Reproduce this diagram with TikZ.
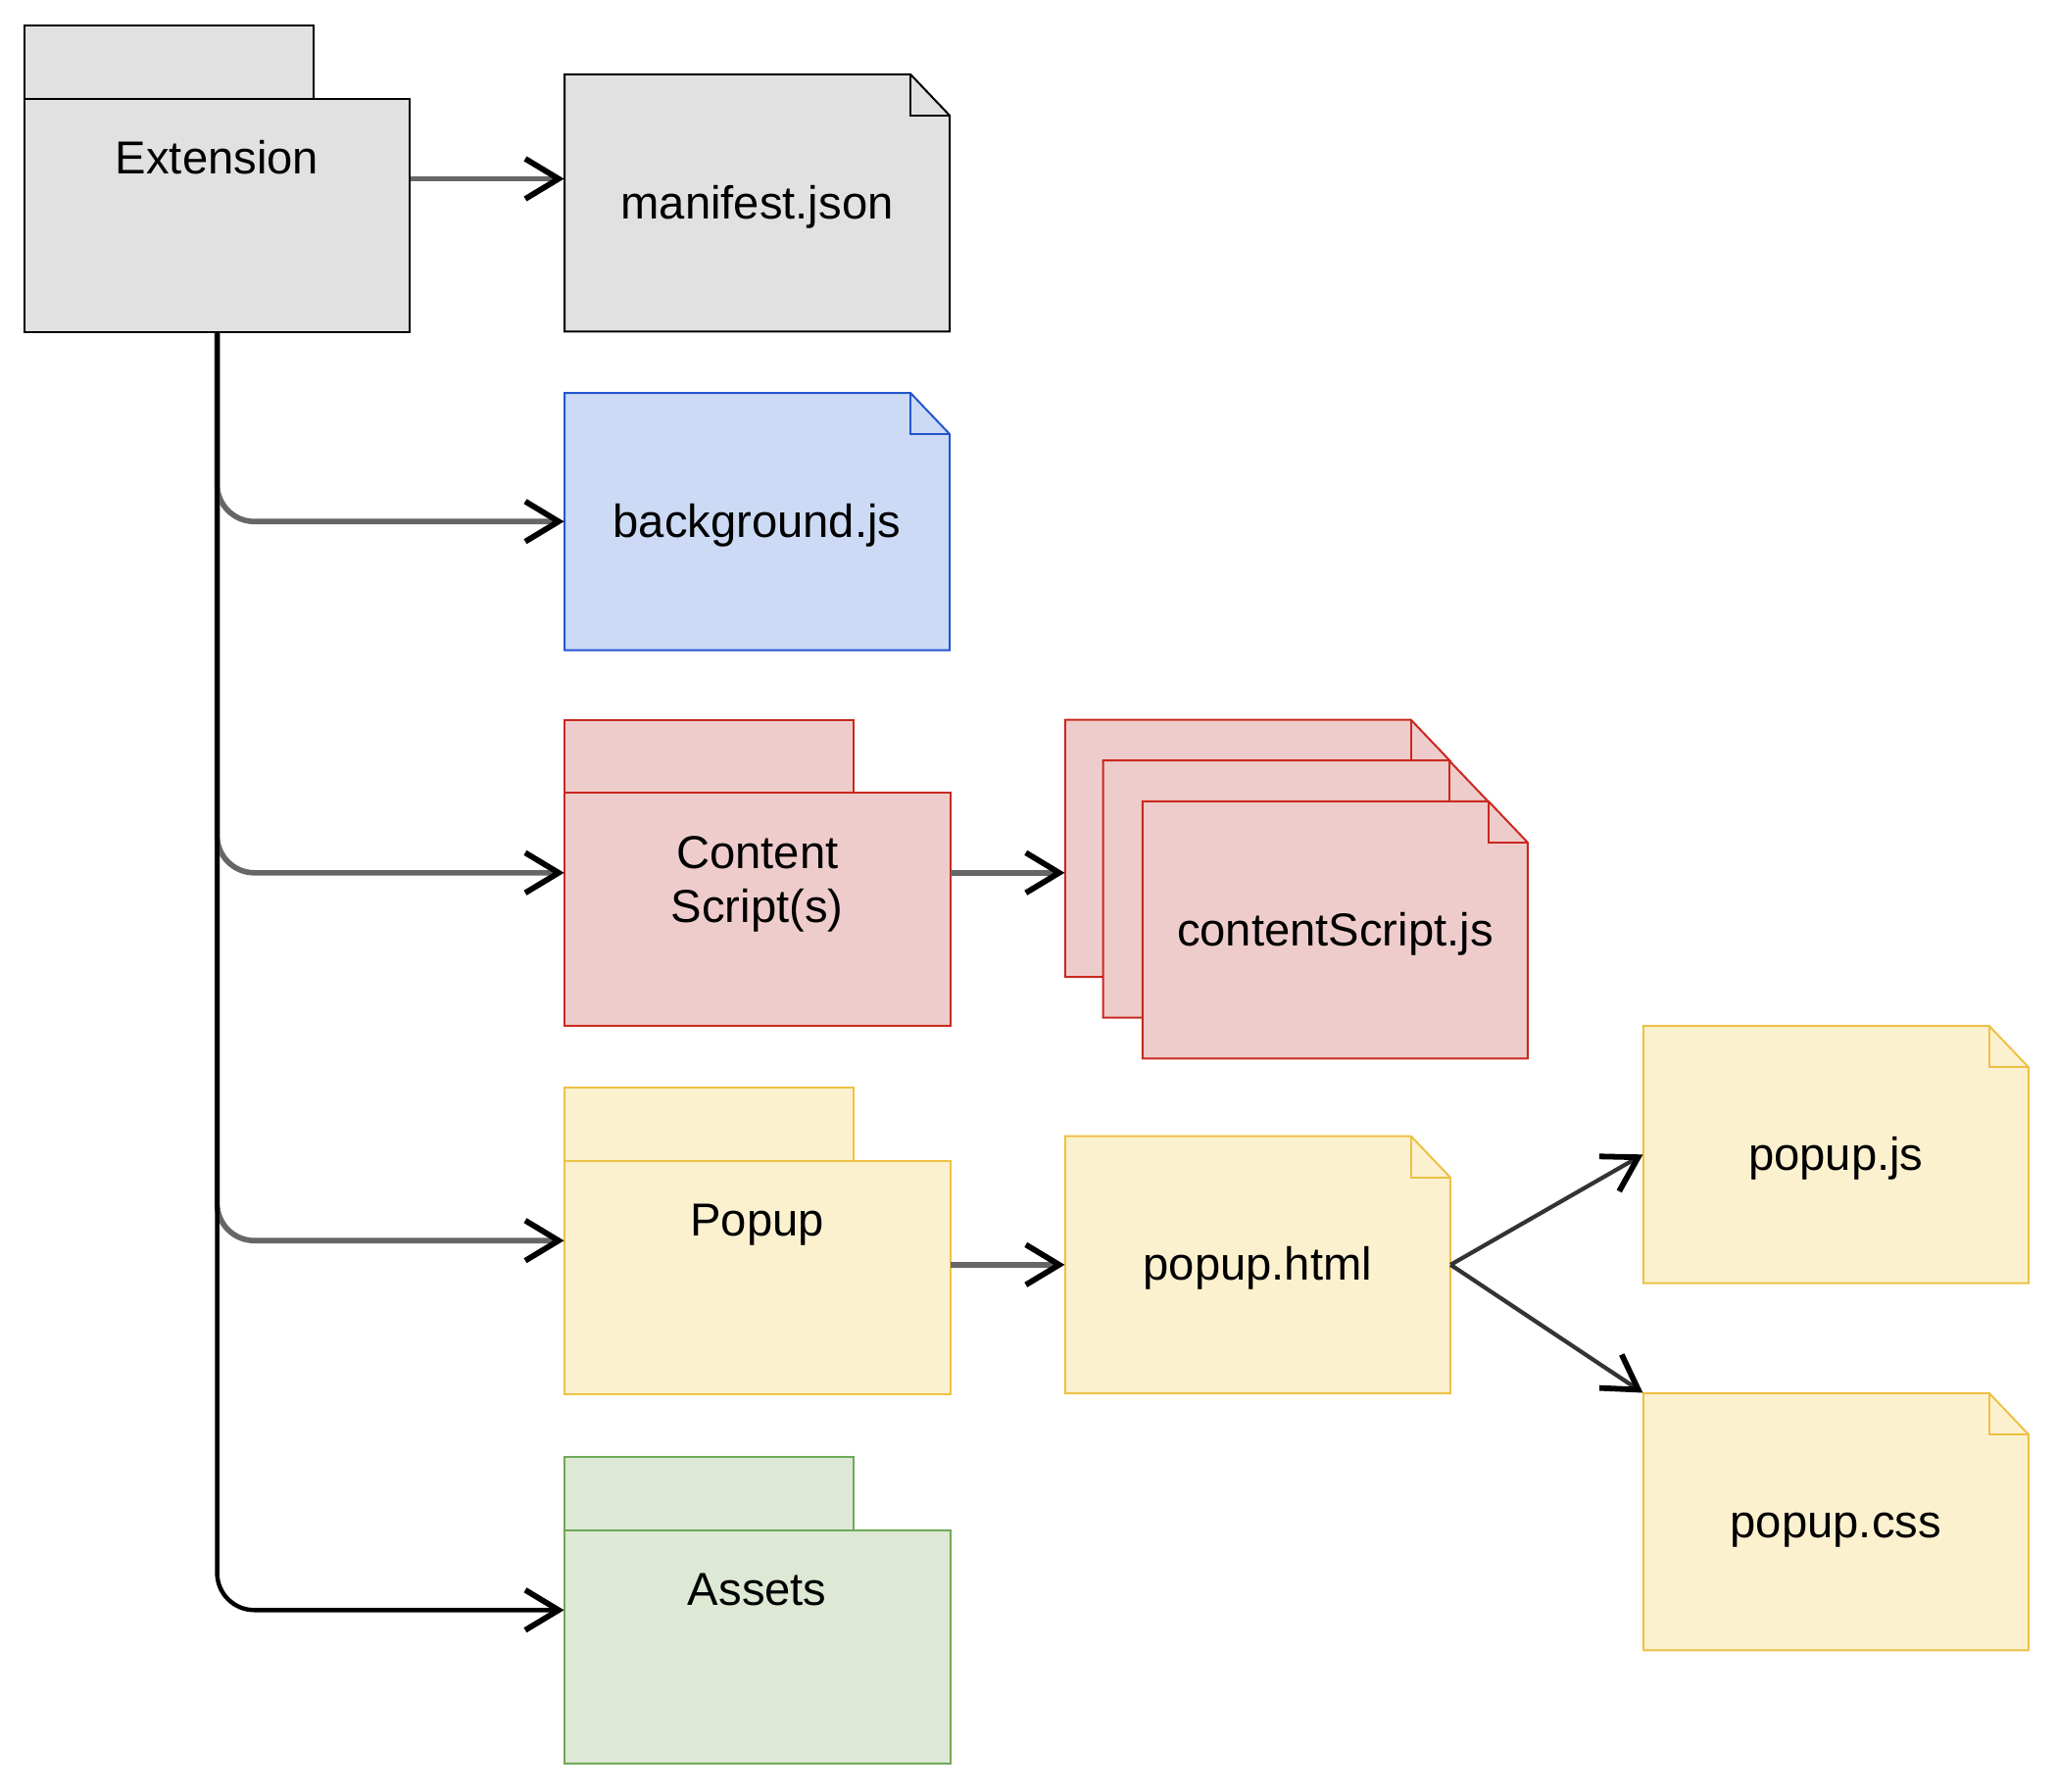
\documentclass[tikz,border=0pt]{standalone}
\usepackage{fontspec}
\setmainfont{Liberation Sans}
\usetikzlibrary{arrows.meta,calc}
\definecolor{grayfill}{HTML}{E1E1E1}
\definecolor{grayline}{HTML}{000000}
\definecolor{bluefill}{HTML}{CCDAF5}
\definecolor{blueline}{HTML}{2456CF}
\definecolor{redfill}{HTML}{EFCCCC}
\definecolor{redline}{HTML}{C9281F}
\definecolor{yelfill}{HTML}{FCF1CF}
\definecolor{yelline}{HTML}{EEC146}
\definecolor{grnfill}{HTML}{DDE8D5}
\definecolor{grnline}{HTML}{6EA957}
\tikzset{
  outl/.style={line width=1pt},
  hitbox/.style={rectangle, inner sep=0pt, draw=none, fill=none},
  lbl/.style={inner sep=0pt, font=\fontsize{23.6}{27.5}\selectfont, text=black},
  arr/.style={-{Straight Barb[length=17pt,width=20.5pt,line width=2.9pt,color=black]}},
  grayconn/.style={arr, line width=2.8pt, draw=black!60},
  blackconn/.style={arr, line width=2.2pt, draw=black},
  diagconn/.style={arr, line width=2.1pt, draw=black!80},
}
% folder: name, x0, y0 (top of tab), fill, stroke, text
\newcommand\folderbox[6]{%
  \draw[outl, fill=#4, draw=#5] (#2,#3) rectangle (#2+295,#3+74.6);
  \draw[outl, fill=#4, draw=#5] (#2,#3+74.6) rectangle (#2+393.5,#3+312.6);
  \node[hitbox, minimum width=196.75pt, minimum height=156.3pt] (#1) at (#2+196.75,#3+156.3) {};
  \node[lbl, anchor=base] (#1-t) at (#2+196.75,#3+74.6+77) {#6};
}
% note: name, x0, y0, fill, stroke, text
\newcommand\notefile[6]{%
  \draw[outl, fill=#4, draw=#5] (#2,#3) -- (#2+353,#3) -- (#2+393,#3+42) -- (#2+393,#3+262.5) -- (#2,#3+262.5) -- cycle;
  \draw[outl, draw=#5] (#2+353,#3) -- (#2+353,#3+42) -- (#2+393,#3+42);
  \node[hitbox, minimum width=196.5pt, minimum height=131.25pt] (#1) at (#2+196.5,#3+131.25) {};
  \node[lbl, anchor=base] (#1-t) at (#2+196.5,#3+131.25+16) {#6};
}
\begin{document}
\begin{tikzpicture}[x=0.5pt,y=-0.5pt]
\fill[white] (0,0) rectangle (2100,1828);
\useasboundingbox (0,0) rectangle (2100,1828);

% folders
\folderbox{ext}{24.8}{26.2}{grayfill}{grayline}{Extension}
\folderbox{cs}{576}{734.5}{redfill}{redline}{\begin{tabular}[t]{@{}c@{}}Content\\Script(s)\end{tabular}}
\folderbox{pop}{576}{1109.9}{yelfill}{yelline}{Popup}
\folderbox{as}{576}{1487}{grnfill}{grnline}{Assets}

% files
\notefile{man}{576}{75.8}{grayfill}{grayline}{manifest.json}
\notefile{bg}{576}{401}{bluefill}{blueline}{background.js}
\notefile{csjA}{1086.8}{734.7}{redfill}{redline}{}
\notefile{csjB}{1125.7}{776.2}{redfill}{redline}{}
\notefile{csjC}{1165.9}{817.9}{redfill}{redline}{contentScript.js}
\notefile{html}{1086.8}{1159.6}{yelfill}{yelline}{popup.html}
\notefile{pjs}{1676.8}{1047.1}{yelfill}{yelline}{popup.js}
\notefile{pcss}{1676.8}{1421.9}{yelfill}{yelline}{popup.css}

% connectors
\draw[grayconn] (ext.east) -- (ext.east -| man.west);
\draw[grayconn, rounded corners=19pt] (ext.south) |- (bg.west);
\draw[grayconn, rounded corners=19pt] (ext.south) |- (cs.west);
\draw[grayconn, rounded corners=19pt] (ext.south) |- (pop.west);
\draw[blackconn, rounded corners=19pt] (ext.south) |- (as.west);
\draw[grayconn] (cs.east) -- (cs.east -| csjA.west);
\draw[grayconn] (pop.east |- html.west) -- (html.west);
\draw[diagconn] (html.east) -- (pjs.west);
\draw[diagconn] (html.east) -- (pcss.north west);
\end{tikzpicture}
\end{document}
